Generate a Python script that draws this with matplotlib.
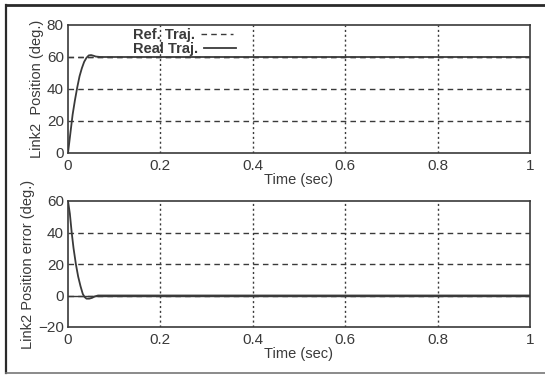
import numpy as np
from matplotlib import pyplot as plt
from matplotlib.lines import Line2D

t_ref = [0.0, 1.0]
pos_ref = [60, 60]

t_pos = [0, 0.005, 0.01, 0.015, 0.02, 0.025, 0.03, 0.035, 0.04, 0.045, 0.05, 0.055, 0.06, 0.07, 1.0]
pos_real = [0, 12, 24, 33, 41, 48, 53, 57, 59.5, 61, 61.2, 60.8, 60.3, 60, 60]

t_err = [0, 0.004, 0.008, 0.012, 0.017, 0.022, 0.027, 0.032, 0.036, 0.04, 0.046, 0.052, 0.058, 0.065, 1.0]
pos_err = [60, 52, 40, 30, 20, 12, 6, 1, -1, -2, -2, -1.5, -0.6, 0, 0]

x_ticks = [0, 0.2, 0.4, 0.6, 0.8, 1]
x_tick_labels = ['0', '0.2', '0.4', '0.6', '0.8', '1']

plt.rcParams['font.family'] = ['Liberation Sans', 'DejaVu Sans']
ink = '#3a3a3a'

fig = plt.figure(figsize=(5.45, 3.75), dpi=100)
ax1 = fig.add_axes([68 / 545, 1 - 153 / 375, 462 / 545, 128 / 375])
ax2 = fig.add_axes([68 / 545, 1 - 327 / 375, 462 / 545, 126 / 375])


def style_axes(ax, ylim, yticks):
    ax.set_xlim(0, 1)
    ax.set_ylim(*ylim)
    ax.set_xticks(x_ticks)
    ax.set_xticklabels(x_tick_labels)
    ax.set_yticks(yticks)
    ax.tick_params(direction='in', length=0, labelsize=11, colors=ink)
    ax.tick_params(axis='x', pad=4)
    ax.tick_params(axis='y', pad=3)
    for s in ax.spines.values():
        s.set_color(ink)
        s.set_linewidth(1.2)
    # vertical grid dotted, horizontal grid dashed
    for x in x_ticks[1:-1]:
        ax.axvline(x, color=ink, linestyle=(0, (1.5, 2)), linewidth=1.0, zorder=1)
    for y in yticks[1:-1]:
        ax.axhline(y, color=ink, linestyle=(0, (4, 3)), linewidth=1.0, zorder=1)
    ax.set_xlabel('Time (sec)', fontsize=10.5, color=ink, labelpad=0)


# top: position
style_axes(ax1, (0, 80), [0, 20, 40, 60, 80])
ax1.plot(t_ref, pos_ref, color=ink, linestyle=(0, (4, 3)), linewidth=1.0, label='Ref. Traj.', zorder=2)
ax1.plot(t_pos, pos_real, color=ink, linestyle='-', linewidth=1.3, label='Real Traj.', zorder=3)
ax1.set_ylabel('Link2  Position (deg.)', fontsize=10.5, color=ink, labelpad=2)
leg = ax1.legend(loc='upper left', bbox_to_anchor=(0.128, 1.02), frameon=False, markerfirst=False,
                 prop={'weight': 'bold', 'size': 10.5}, handlelength=2.2, handletextpad=0.4,
                 labelspacing=0.0, borderaxespad=0)
# keep the label column left aligned like the original
try:
    leg._legend_handle_box.get_children()[0].align = 'left'
except Exception:
    pass
for txt in leg.get_texts():
    txt.set_color(ink)

# bottom: position error
style_axes(ax2, (-20, 60), [-20, 0, 20, 40, 60])
ax2.axhline(0, color=ink, linestyle='-', linewidth=1.0, zorder=1)
ax2.plot(t_err, pos_err, color=ink, linestyle='-', linewidth=1.3, zorder=3)
ax2.set_ylabel('Link2 Position error (deg.)', fontsize=10.5, color=ink, labelpad=2)

# outer frame of the scanned figure (right edge is cut off)
fig.add_artist(Line2D([6 / 545, 1], [1 - 5 / 375] * 2, transform=fig.transFigure, color='#2a2a2a', linewidth=2.0))
fig.add_artist(Line2D([6 / 545] * 2, [2 / 375, 1 - 5 / 375], transform=fig.transFigure, color='#2a2a2a', linewidth=1.6))
fig.add_artist(Line2D([6 / 545, 1], [2 / 375] * 2, transform=fig.transFigure, color='#777777', linewidth=1.2))

fig.savefig('out.png', dpi=100)
